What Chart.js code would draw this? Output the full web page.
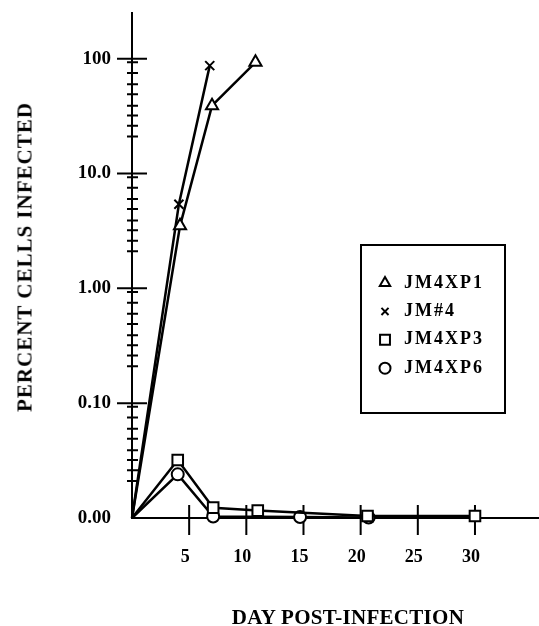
<!DOCTYPE html>
<html>
<head>
<meta charset="utf-8">
<script src="https://cdn.jsdelivr.net/npm/chart.js@4.4.1/dist/chart.umd.min.js"></script>
<style>
  body { margin: 0; background: #fff; }
  #wrap { position: relative; width: 539px; height: 626px; }
  .axisTitle {
    position: absolute;
    font-family: 'Liberation Serif', 'Times New Roman', serif;
    font-weight: bold;
    font-size: 21px;
    line-height: 1;
    white-space: nowrap;
    color: #000;
  }
  #yTitle { left: 25px; top: 257px; transform: translate(-50%, -50%) rotate(-90deg); letter-spacing: 1px; }
  #xTitle { left: 348px; top: 617px; transform: translate(-50%, -50%); letter-spacing: 0.3px; }
</style>
</head>
<body>
<div id="wrap">
  <canvas id="chart" width="539" height="626"></canvas>
  <div id="yTitle" class="axisTitle">PERCENT CELLS INFECTED</div>
  <div id="xTitle" class="axisTitle">DAY POST-INFECTION</div>
</div>
<script>
// Valeurs
const seriesNames = ['JM4XP1', 'JM#4', 'JM4XP3', 'JM4XP6'];
const daysXP1 = [0, 4.2, 7.0, 10.8];
const valuesXP1 = [0.01, 3.5, 39, 93];
const daysJM4 = [0, 4.1, 6.8];
const valuesJM4 = [0.01, 5.4, 87];
const daysXP3 = [0, 4.0, 7.1, 11.0, 20.6, 30.0];
const valuesXP3 = [0.01, 0.032, 0.0123, 0.0116, 0.0104, 0.0104];
const daysXP6 = [0, 4.0, 7.1, 14.7, 20.7];
const valuesXP6 = [0.01, 0.024, 0.0103, 0.0102, 0.0101];

// Graduations
const xTicks = [5, 10, 15, 20, 25, 30];
const yMajorTicks = [0.01, 0.1, 1, 10, 100];
const yTickLabels = ['0.00', '0.10', '1.00', '10.0', '100'];
const yMinorFactors = [0.93, 0.75, 0.6, 0.49, 0.39, 0.32, 0.26, 0.21];

const serif = "'Liberation Serif', 'Times New Roman', serif";
Chart.defaults.color = '#000';

function makeSeries(label, days, values, style, radius, legendRadius) {
  return {
    label: label,
    data: days.map((d, i) => ({ x: d, y: values[i] })),
    borderColor: '#000',
    borderWidth: 2.5,
    pointStyle: style,
    pointRadius: ctx => ctx.dataIndex === 0 ? 0 : radius, // pas de marqueur a l'origine
    pointBorderColor: '#000',
    pointBackgroundColor: '#fff',
    pointBorderWidth: 2,
    legendRadius: legendRadius,
    tension: 0,
    clip: false
  };
}

// Petites graduations qui traversent les axes
const axisTicks = {
  id: 'axisTicks',
  beforeDatasetsDraw(chart) {
    const { ctx, scales: { x, y } } = chart;
    const x0 = x.getPixelForValue(0);
    const y0 = y.getPixelForValue(yMajorTicks[0]);
    ctx.save();
    ctx.strokeStyle = '#000';
    ctx.lineWidth = 2;
    ctx.beginPath();
    yMajorTicks.forEach((v, i) => {
      if (i === 0) return;
      const py = y.getPixelForValue(v);
      ctx.moveTo(x0 - 15, py);
      ctx.lineTo(x0 + 15, py);
      yMinorFactors.forEach(f => {
        const my = y.getPixelForValue(v * f);
        ctx.moveTo(x0 - 5, my);
        ctx.lineTo(x0 + 6, my);
      });
    });
    xTicks.forEach(t => {
      const px = x.getPixelForValue(t);
      ctx.moveTo(px, y0 - 13);
      ctx.lineTo(px, y0 + 17);
    });
    ctx.stroke();
    ctx.restore();
  }
};

// Legende encadree dans le graphique
const boxLegend = {
  id: 'boxLegend',
  afterDraw(chart, args, opts) {
    const ctx = chart.ctx;
    ctx.save();
    ctx.strokeStyle = '#000';
    ctx.lineWidth = 2;
    ctx.strokeRect(opts.left, opts.top, opts.width, opts.height);
    chart.data.datasets.forEach((ds, i) => {
      const yy = opts.rowStart + i * opts.rowGap;
      ctx.fillStyle = '#fff';
      ctx.strokeStyle = '#000';
      ctx.lineWidth = 2;
      Chart.helpers.drawPoint(ctx, {
        pointStyle: ds.pointStyle, radius: ds.legendRadius, rotation: 0, borderWidth: 2
      }, opts.markerX, yy);
      ctx.fillStyle = '#000';
      ctx.font = 'bold 18px ' + serif;
      ctx.textBaseline = 'middle';
      ctx.textAlign = 'left';
      ctx.letterSpacing = '2px';
      ctx.fillText(ds.label, opts.textX, yy);
    });
    ctx.restore();
  }
};

new Chart(document.getElementById('chart'), {
  type: 'line',
  data: {
    datasets: [
      makeSeries(seriesNames[0], daysXP1, valuesXP1, 'triangle', 7, 6),
      makeSeries(seriesNames[1], daysJM4, valuesJM4, 'crossRot', 6.4, 5),
      makeSeries(seriesNames[2], daysXP3, valuesXP3, 'rect', 7.5, 7),
      makeSeries(seriesNames[3], daysXP6, valuesXP6, 'circle', 6, 5.5)
    ]
  },
  options: {
    responsive: false,
    animation: false,
    layout: { autoPadding: false, padding: { top: 13, right: 0, bottom: 0, left: 0 } },
    plugins: {
      legend: { display: false },
      tooltip: { enabled: false },
      boxLegend: { left: 361, top: 245, width: 144, height: 168, rowStart: 283, rowGap: 28.4, markerX: 385, textX: 404 }
    },
    scales: {
      x: {
        type: 'linear',
        min: 0,
        max: 35.6,
        afterBuildTicks: s => { s.ticks = xTicks.map(v => ({ value: v })); },
        afterFit: s => { s.height = 108; s.paddingLeft = 0; s.paddingRight = 0; },
        grid: { display: false, drawTicks: false },
        border: { display: true, color: '#000', width: 2 },
        ticks: {
          font: { family: serif, weight: 'bold', size: 18 },
          color: '#000',
          padding: 29,
          maxRotation: 0,
          autoSkip: false,
          labelOffset: -4
        }
      },
      y: {
        type: 'logarithmic',
        min: 0.01,
        max: 250,
        afterBuildTicks: s => { s.ticks = yMajorTicks.map(v => ({ value: v })); },
        afterFit: s => { s.width = 132; s.paddingTop = 0; s.paddingBottom = 0; },
        grid: { display: false, drawTicks: false },
        border: { display: true, color: '#000', width: 2 },
        ticks: {
          callback: v => yTickLabels[yMajorTicks.indexOf(v)],
          font: { family: serif, weight: 'bold', size: 19 },
          color: '#000',
          padding: 21
        }
      }
    }
  },
  plugins: [axisTicks, boxLegend]
});
</script>
</body>
</html>
